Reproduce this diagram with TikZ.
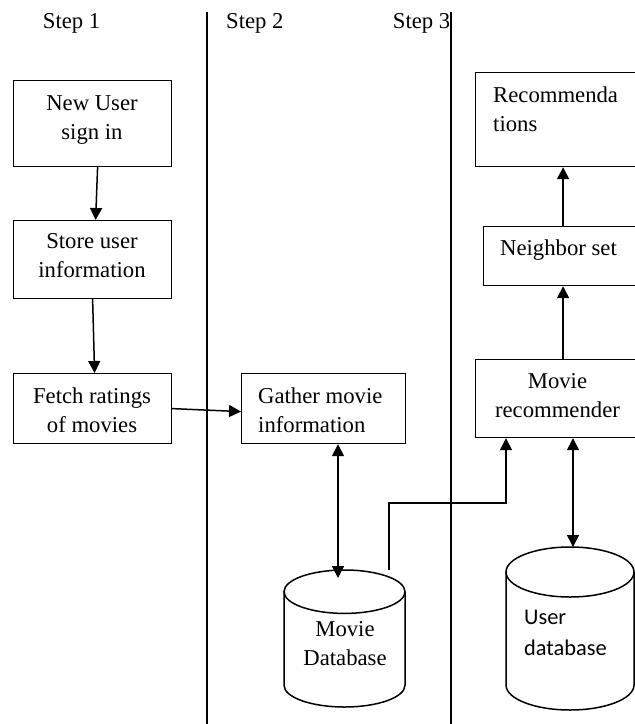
\documentclass[tikz,border=0pt]{standalone}
\usepackage{fontspec}
\setmainfont{Liberation Serif}
\newfontfamily\calib{Carlito}
\usetikzlibrary{arrows.meta}
\begin{document}
\begin{tikzpicture}[x=1pt,y=-1pt,
  box/.style={draw, line width=1.2pt, rectangle, inner sep=0pt, anchor=north west},
  txt/.style={inner sep=0pt, font=\fontsize{22.7}{29}\selectfont},
  arr/.style={line width=1.5pt, -{Triangle[length=12pt,width=12pt]}},
  darr/.style={line width=1.5pt, {Triangle[length=12pt,width=12pt]}-{Triangle[length=12pt,width=12pt]}},
  sep/.style={line width=1.5pt},
  cyl/.style={line width=1.5pt}]
\useasboundingbox (0,0) rectangle (635,724);
% separators
\coordinate (v1t) at (207,12); \coordinate (v1b) at (207,724);
\coordinate (v2t) at (451,12); \coordinate (v2b) at (451,724);
\draw[sep] (v1t) -- (v1b);
\draw[sep] (v2t) -- (v2b);
% step labels
\node[txt, anchor=base west] (s1) at (42.7,28.3) {Step 1};
\node[txt, anchor=base west] (s2) at (226,28.3) {Step 2};
\node[txt, anchor=base west] (s3) at (392.7,28.3) {Step 3};
% boxes
\node[box, minimum width=158pt, minimum height=86pt] (nu) at (13,80) {};
\node[box, minimum width=158pt, minimum height=78pt] (su) at (13,220) {};
\node[box, minimum width=158pt, minimum height=70pt] (fr) at (13,373) {};
\node[box, minimum width=164pt, minimum height=70pt] (gm) at (241,373) {};
\node[box, minimum width=175pt, minimum height=94pt] (rec) at (475,72) {};
\node[box, minimum width=167pt, minimum height=59pt] (nb) at (483,226) {};
\node[box, minimum width=175pt, minimum height=78pt] (mr) at (475,359) {};
% box texts
\node[txt, anchor=north, align=center] (nut) at (92,95.2) {New User\\sign in};
\node[txt, anchor=north, align=center] (sut) at (92,233) {Store user\\information};
\node[txt, anchor=north, align=center] (frt) at (92,387.5) {Fetch ratings\\of movies};
\node[txt, anchor=north west, align=left] (gmt) at (258,387.5) {Gather movie\\information};
\node[txt, anchor=north west, align=left] (rect) at (493,86.2) {Recommenda\\tions};
\node[txt, anchor=base west] (nbt) at (500,255) {Neighbor set};
\node[txt, anchor=north, align=center] (mrt) at (557.5,372.8) {Movie\\recommender};
% movie database cylinder
\coordinate (mdb) at (344.5,591.7);
\draw[cyl] (mdb) ellipse [x radius=60.5pt, y radius=21.7pt];
\draw[cyl] (284,591.7) -- (284,685.3) arc[start angle=180, end angle=360, x radius=60.5pt, y radius=21.7pt] -- (405,591.7);
\node[txt, anchor=north, align=center] (mdt) at (345,621.5) {Movie\\Database};
% user database cylinder
\coordinate (udb) at (570,572);
\draw[cyl] (udb) ellipse [x radius=64pt, y radius=25pt];
\draw[cyl] (506,572) -- (506,685) arc[start angle=180, end angle=360, x radius=64pt, y radius=25pt] -- (634,572);
\node[txt, anchor=north west, align=left, font=\calib\fontsize{22.4}{31}\selectfont] (udt) at (524,609.6) {User\\database};
% connectors
\coordinate (mdbtop) at (338,578);
\coordinate (udbtop) at (573,547);
\coordinate (lc) at (389,570);
\coordinate (lcorner) at (389,503);
\draw[arr] ([xshift=5pt]nu.south) -- ([xshift=3pt]su.north);
\draw[arr] (su.south) -- ([xshift=2pt]fr.north);
\draw[arr] (fr.east) -- ([yshift=-3pt]gm.west);
\draw[darr] (gm.south -| mdbtop) -- (mdbtop);
\draw[arr] (lc) -- (lcorner) -| ([xshift=31pt]mr.south west);
\draw[darr] (mr.south -| udbtop) -- (udbtop);
\draw[arr] (mr.north) -- (nb.south -| mr.north);
\draw[arr] (nb.north -| rec.south) -- (rec.south);
\end{tikzpicture}
\end{document}
